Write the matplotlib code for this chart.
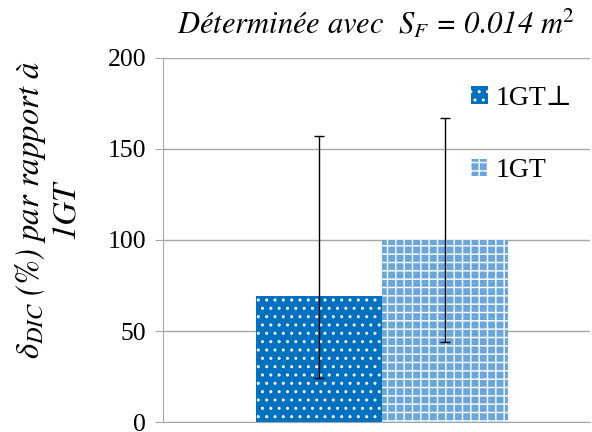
import matplotlib
matplotlib.use("Agg")
import matplotlib.pyplot as plt
import numpy as np

# data
labels = ["1GT\u22a5", "1GT"]
values = [69, 100]
err_low = [24, 44]      # lower end of the error bar
err_high = [157, 167]   # upper end of the error bar
colors = ["#0070C0", "#6AA6DE"]
hatches = ["..", "++"]
yticks = [0, 50, 100, 150, 200]

plt.rcParams["font.family"] = ["Liberation Serif", "DejaVu Serif"]
plt.rcParams["mathtext.fontset"] = "stix"
plt.rcParams["hatch.linewidth"] = 1.0

fig = plt.figure(figsize=(5.92, 4.32), dpi=100)
ax = fig.add_axes([0.275, 0.023, 0.722, 0.843])

x = np.arange(len(values))
yerr = np.array([[v - lo for v, lo in zip(values, err_low)],
                 [hi - v for v, hi in zip(values, err_high)]])

for i in range(len(values)):
    ax.bar(x[i], values[i], width=1.0, color=colors[i], edgecolor="white",
           hatch=hatches[i], linewidth=0, label=labels[i], zorder=2)
ax.errorbar(x, values, yerr=yerr, fmt="none", ecolor="black", elinewidth=1.0,
            capsize=3.5, capthick=1.0, zorder=3)

ax.set_xlim(-1.238, 2.151)
ax.set_ylim(0, 200)
ax.set_yticks(yticks)
ax.set_xticks([])
ax.tick_params(axis="y", labelsize=18.5, direction="out", length=6, color="#A6A6A6", pad=6)
ax.yaxis.grid(True, color="#A6A6A6", linewidth=1.0, zorder=0)
ax.set_axisbelow(True)
for s in ["top", "right"]:
    ax.spines[s].set_visible(False)
ax.spines["left"].set_color("#A6A6A6")
ax.spines["bottom"].set_color("#A6A6A6")

# italic Times-like text: STIX ships with matplotlib
fig.text(47 / 592, 1 - 210 / 432, "$\\delta_{DIC}$ (%) par rapport à\n1GT",
         fontsize=23.5, style="italic", family="STIXGeneral",
         rotation=90, ha="center", va="center", multialignment="center",
         linespacing=1.15)

fig.text(376 / 592, 1 - 23 / 432, "Déterminée avec  $S_F$ = 0.014 m$^2$", fontsize=22,
         style="italic", family="STIXGeneral", ha="center", va="center")

ax.legend(loc="upper left", bbox_to_anchor=(471 / 592, 1 - 86 / 432),
          bbox_transform=fig.transFigure, frameon=False, fontsize=20,
          handlelength=0.6, handleheight=0.6, handletextpad=0.3,
          labelspacing=1.7, borderaxespad=0, borderpad=0)

fig.savefig("out.png", dpi=100)
